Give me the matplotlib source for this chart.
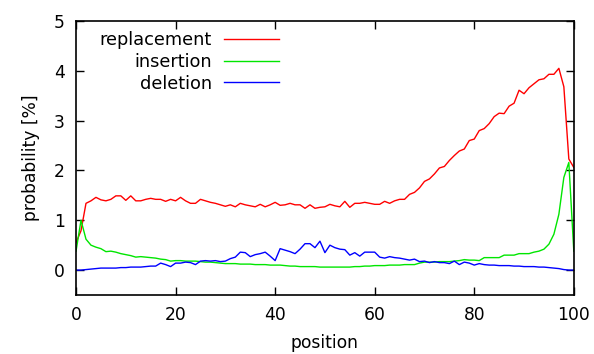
import numpy as np
import matplotlib
matplotlib.use("Agg")
import matplotlib.pyplot as plt

# positions 0..100
position = np.arange(0, 101)

replacement = [
    0.55, 0.79, 1.34, 1.39, 1.46, 1.41, 1.39, 1.42, 1.49, 1.49,
    1.40, 1.49, 1.39, 1.39, 1.42, 1.44, 1.42, 1.42, 1.38, 1.42,
    1.39, 1.46, 1.39, 1.34, 1.34, 1.42, 1.39, 1.36, 1.34, 1.31,
    1.28, 1.31, 1.27, 1.34, 1.31, 1.29, 1.27, 1.32, 1.27, 1.31,
    1.36, 1.30, 1.31, 1.34, 1.31, 1.31, 1.24, 1.31, 1.24, 1.26,
    1.27, 1.32, 1.29, 1.27, 1.38, 1.26, 1.34, 1.34, 1.36, 1.34,
    1.32, 1.32, 1.38, 1.34, 1.39, 1.42, 1.42, 1.52, 1.56, 1.65,
    1.78, 1.83, 1.93, 2.05, 2.08, 2.20, 2.30, 2.39, 2.43, 2.60,
    2.63, 2.80, 2.84, 2.94, 3.08, 3.15, 3.14, 3.29, 3.35, 3.61,
    3.54, 3.66, 3.74, 3.82, 3.84, 3.93, 3.93, 4.05, 3.68, 2.23,
    2.06,
]

insertion = [
    0.38, 1.00, 0.62, 0.50, 0.46, 0.43, 0.37, 0.38, 0.36, 0.33,
    0.31, 0.29, 0.26, 0.27, 0.26, 0.25, 0.24, 0.22, 0.21, 0.18,
    0.19, 0.19, 0.18, 0.18, 0.18, 0.17, 0.16, 0.16, 0.15, 0.14,
    0.13, 0.13, 0.13, 0.12, 0.12, 0.12, 0.11, 0.11, 0.11, 0.10,
    0.10, 0.10, 0.09, 0.08, 0.08, 0.07, 0.07, 0.07, 0.07, 0.06,
    0.06, 0.06, 0.06, 0.06, 0.06, 0.06, 0.07, 0.07, 0.08, 0.08,
    0.09, 0.09, 0.09, 0.10, 0.10, 0.10, 0.11, 0.11, 0.11, 0.14,
    0.16, 0.16, 0.16, 0.17, 0.17, 0.17, 0.18, 0.19, 0.21, 0.20,
    0.20, 0.19, 0.25, 0.25, 0.25, 0.25, 0.30, 0.30, 0.30, 0.33,
    0.33, 0.33, 0.36, 0.38, 0.42, 0.52, 0.72, 1.12, 1.86, 2.16,
    0.38,
]

deletion = [
    0.00, 0.00, 0.01, 0.02, 0.03, 0.04, 0.04, 0.04, 0.04, 0.05,
    0.05, 0.06, 0.06, 0.06, 0.07, 0.08, 0.08, 0.14, 0.11, 0.07,
    0.14, 0.14, 0.16, 0.15, 0.11, 0.18, 0.19, 0.18, 0.19, 0.17,
    0.18, 0.23, 0.26, 0.36, 0.35, 0.27, 0.31, 0.33, 0.36, 0.28,
    0.19, 0.43, 0.40, 0.37, 0.33, 0.42, 0.53, 0.53, 0.45, 0.58,
    0.35, 0.50, 0.45, 0.42, 0.41, 0.30, 0.35, 0.28, 0.36, 0.36,
    0.36, 0.26, 0.24, 0.27, 0.25, 0.24, 0.22, 0.20, 0.22, 0.17,
    0.18, 0.15, 0.17, 0.15, 0.15, 0.13, 0.18, 0.11, 0.16, 0.14,
    0.10, 0.13, 0.11, 0.10, 0.10, 0.09, 0.09, 0.09, 0.08, 0.08,
    0.07, 0.07, 0.07, 0.06, 0.06, 0.05, 0.04, 0.03, 0.01, 0.00,
    0.00,
]

x_ticks = [0, 20, 40, 60, 80, 100]
y_ticks = [0, 1, 2, 3, 4, 5]

plt.rcParams['font.family'] = ['DejaVu Sans']
plt.rcParams['font.size'] = 12

fig = plt.figure(figsize=(5.94, 3.54), dpi=100)
ax = fig.add_axes([0.128, 0.1667, 0.838, 0.774])

ax.plot(position, replacement, color='#ff0000', lw=1.0, label='replacement')
ax.plot(position, insertion, color='#00e600', lw=1.0, label='insertion')
ax.plot(position, deletion, color='#0000ff', lw=1.0, label='deletion')

ax.set_xlim(0, 100)
ax.set_ylim(-0.5, 5)
ax.set_xticks(x_ticks)
ax.set_yticks(y_ticks)
ax.tick_params(direction='in', length=6, width=1.0, top=True, right=True,
               labelsize=12.3, pad=8)
for sp in ax.spines.values():
    sp.set_linewidth(1.2)
    sp.set_color('black')

ax.set_xlabel('position', fontsize=12.3, labelpad=7)
ax.set_ylabel('probability [%]', fontsize=12.3, labelpad=10)

# gnuplot-style key: right-aligned labels with the samples after them
leg = ax.legend(loc='upper right', bbox_to_anchor=(0.4076, 0.962),
                markerfirst=False, frameon=False, fontsize=12.8,
                handlelength=3.1, handletextpad=0.67, labelspacing=0.2,
                borderpad=0, borderaxespad=0)

fig.savefig('out.png', dpi=100)
